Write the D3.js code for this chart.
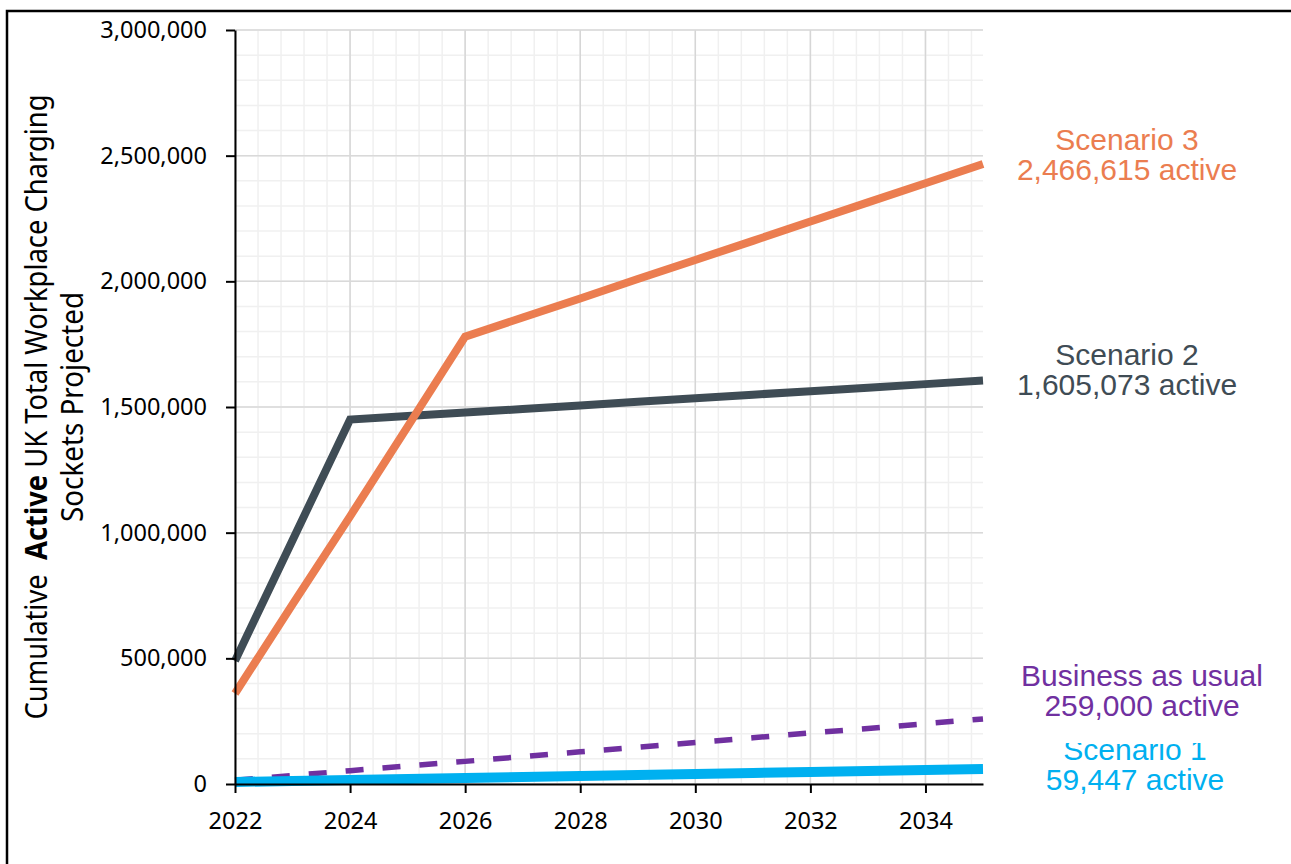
<!DOCTYPE html>
<html>
<head>
<meta charset="utf-8">
<script src="https://cdn.jsdelivr.net/npm/d3@7"></script>
<style>
  body { margin: 0; background: #fff; }
  .tick text { font-family: "Noto Sans", sans-serif; font-size: 23.5px; fill: #000; }
  .axis path, .axis line { stroke: #000; stroke-width: 2px; }
  .end-label { font-family: "Liberation Sans", Arial, sans-serif; font-size: 30px; }
  .ytitle { font-family: "Noto Sans", sans-serif; font-size: 30px; fill: #000; }
</style>
</head>
<body>
<div id="svg-wrapper"></div>
<script>
var width = 1291;
var height = 864;

// data
var years = [2022, 2023, 2024, 2025, 2026, 2027, 2028, 2029, 2030, 2031, 2032, 2033, 2034, 2035];
var scenario1 = [8000, 12000, 16000, 20000, 24000, 28000, 32000, 36000, 40000, 44000, 48000, 52000, 55500, 59447];
var scenario2 = [490000, 970000, 1450000, 1464000, 1478000, 1492000, 1506000, 1521000, 1535000, 1549000, 1563000, 1577000, 1591000, 1605073];
var scenario3 = [360000, 715000, 1065000, 1422000, 1780000, 1856000, 1932000, 2009000, 2085000, 2161000, 2238000, 2314000, 2390000, 2466615];
var businessAsUsual = [15000, 34000, 53000, 72000, 90000, 109000, 128000, 146000, 165000, 184000, 203000, 221000, 240000, 259000];

var xTicks = [2022, 2024, 2026, 2028, 2030, 2032, 2034];
var yTicks = [0, 500000, 1000000, 1500000, 2000000, 2500000, 3000000];

var seriesNames = ["Business as usual", "Scenario 1", "Scenario 2", "Scenario 3"];
var seriesColors = ["#7030a0", "#00b0f0", "#3f4c55", "#eb7d50"];
var endLabels = ["259,000 active", "59,447 active", "1,605,073 active", "2,466,615 active"];

var x = d3.scaleLinear().domain([2022, 2035]).range([235, 983]);
var y = d3.scaleLinear().domain([0, 3000000]).range([784, 30]);

var svg = d3.select("#svg-wrapper").append("svg")
  .attr("width", width)
  .attr("height", height);

// outer frame (runs off the right and bottom edges)
svg.append("rect")
  .attr("x", 7).attr("y", 11)
  .attr("width", 1400).attr("height", 1000)
  .attr("fill", "none")
  .attr("stroke", "#000")
  .attr("stroke-width", 2.5);

var grid = svg.append("g");

// minor grid
grid.selectAll("line.vminor")
  .data(d3.range(0, 33).map(function(i) { return 2022 + i * 0.4; }).filter(function(d) { return d <= 2035; }))
  .enter().append("line")
  .attr("x1", function(d) { return x(d); }).attr("x2", function(d) { return x(d); })
  .attr("y1", y(3000000)).attr("y2", y(0))
  .attr("stroke", "#f0f0f0").attr("stroke-width", 1.5);

grid.selectAll("line.hminor")
  .data(d3.range(0, 31).map(function(i) { return i * 100000; }))
  .enter().append("line")
  .attr("x1", x(2022)).attr("x2", x(2035))
  .attr("y1", function(d) { return y(d); }).attr("y2", function(d) { return y(d); })
  .attr("stroke", "#f0f0f0").attr("stroke-width", 1.5);

// major grid
grid.selectAll("line.vmajor")
  .data(xTicks)
  .enter().append("line")
  .attr("x1", function(d) { return x(d); }).attr("x2", function(d) { return x(d); })
  .attr("y1", y(3000000)).attr("y2", y(0))
  .attr("stroke", "#d6d6d6").attr("stroke-width", 1.5);

grid.selectAll("line.hmajor")
  .data(yTicks)
  .enter().append("line")
  .attr("x1", x(2022)).attr("x2", x(2035))
  .attr("y1", function(d) { return y(d); }).attr("y2", function(d) { return y(d); })
  .attr("stroke", "#d9d9d9").attr("stroke-width", 1.5);

// lines
var line = d3.line()
  .x(function(d, i) { return x(years[i]); })
  .y(function(d) { return y(d); });

var allSeries = [businessAsUsual, scenario1, scenario2, scenario3];
var widths = [5.5, 10, 8, 8];

allSeries.forEach(function(s, i) {
  svg.append("path")
    .datum(s)
    .attr("d", line)
    .attr("fill", "none")
    .attr("stroke", seriesColors[i])
    .attr("stroke-width", widths[i])
    .attr("stroke-linejoin", "miter")
    .attr("stroke-linecap", "butt")
    .attr("stroke-dasharray", i === 0 ? "18,19" : null);
});

// axes
svg.append("g")
  .attr("class", "axis")
  .attr("transform", "translate(" + x(2022) + ",0)")
  .call(d3.axisLeft(y).tickValues(yTicks).tickSize(9).tickSizeOuter(0).tickPadding(19).tickFormat(d3.format(",")));

svg.append("g")
  .attr("class", "axis")
  .attr("transform", "translate(0," + y(0) + ")")
  .call(d3.axisBottom(x).tickValues(xTicks).tickSize(9).tickSizeOuter(0).tickPadding(19).tickFormat(d3.format("d")));

// y axis title
var title = svg.append("g")
  .attr("transform", "translate(47,407) rotate(-90)");

var t1 = title.append("text")
  .attr("class", "ytitle")
  .attr("text-anchor", "middle")
  .attr("textLength", 625)
  .attr("lengthAdjust", "spacingAndGlyphs")
  .attr("y", 0);
t1.append("tspan").text("Cumulative ");
t1.append("tspan").attr("dx", 8).attr("font-weight", "bold").text("Active");
t1.append("tspan").text(" UK Total Workplace Charging");

title.append("text")
  .attr("class", "ytitle")
  .attr("text-anchor", "middle")
  .attr("textLength", 230)
  .attr("lengthAdjust", "spacingAndGlyphs")
  .attr("y", 36)
  .text("Sockets Projected");

// end labels
var labelPos = [[1142, 686], [1135, 760], [1127, 365], [1127, 150]];

function endLabel(i) {
  var g = svg.append("g").attr("class", "end-label").attr("fill", seriesColors[i]);
  g.append("text").attr("x", labelPos[i][0]).attr("y", labelPos[i][1])
    .attr("text-anchor", "middle").text(seriesNames[i]);
  g.append("text").attr("x", labelPos[i][0]).attr("y", labelPos[i][1] + 30)
    .attr("text-anchor", "middle").text(endLabels[i]);
}

endLabel(3);
endLabel(2);
endLabel(1);
// BAU text box sits over the top of the Scenario 1 label
svg.append("rect")
  .attr("x", 1000).attr("y", 655)
  .attr("width", 285).attr("height", 88)
  .attr("fill", "#fff");
endLabel(0);
</script>
</body>
</html>
